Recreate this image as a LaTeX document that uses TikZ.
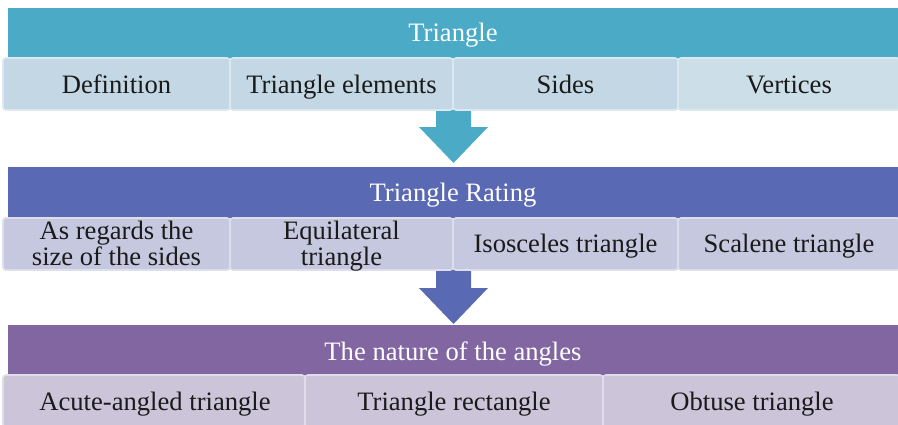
\documentclass[tikz,border=0pt]{standalone}
\usepackage{fontspec}
\setmainfont{Liberation Serif}
\definecolor{hA}{HTML}{4BABC6}
\definecolor{hB}{HTML}{5A69B4}
\definecolor{hC}{HTML}{8266A2}
\definecolor{sA}{HTML}{C3D8E4}
\definecolor{sB}{HTML}{C5C8DF}
\definecolor{sC}{HTML}{CCC5DA}
\definecolor{txt}{HTML}{1A1A1A}
\tikzset{
  hdr/.style={rectangle, anchor=north west, inner sep=0pt, outer sep=0pt,
    minimum height=51pt},
  sub/.style={rectangle, rounded corners=3pt, anchor=north west, inner sep=0pt, outer sep=0pt,
    line width=1.6pt},
  htext/.style={anchor=base, inner sep=0pt, text=white, font=\fontsize{26.6}{26}\selectfont},
  stext/.style={anchor=base, inner sep=0pt, text=txt, align=center, font=\fontsize{26.6}{26}\selectfont}
}
\begin{document}
\begin{tikzpicture}[x=1pt,y=-1pt]
\useasboundingbox (0,0) rectangle (898,424);
% arrows (behind boxes)
\fill[hA] (436,106) -- (471,106) -- (471,127) -- (488,127) -- (453.5,163) -- (419,127) -- (436,127) -- cycle;
\fill[hB] (436,266) -- (471,266) -- (471,288) -- (488,288) -- (453.5,324) -- (419,288) -- (436,288) -- cycle;
% band 1
\node[hdr, fill=hA, minimum width=891pt] (h1) at (7.5,7.5) {};
\node[htext] (t1) at (453,41) {Triangle};
\node[sub, fill=sA, draw=sA!60!white, minimum width=227pt, minimum height=52pt] (a1) at (3,58) {};
\node[sub, fill=sA, draw=sA!60!white, minimum width=223pt, minimum height=52pt] (a2) at (230,58) {};
\node[sub, fill=sA, draw=sA!60!white, minimum width=225pt, minimum height=52pt] (a3) at (453,58) {};
\node[sub, fill=sA!85!white, draw=sA!60!white, minimum width=222pt, minimum height=52pt] (a4) at (678,58) {};
\node[stext] at (116.5,93) {Definition};
\node[stext] at (341.5,93) {Triangle elements};
\node[stext] at (565.5,93) {Sides};
\node[stext] at (789,93) {Vertices};
% band 2
\node[hdr, fill=hB, minimum width=891pt] (h2) at (7.5,166.5) {};
\node[htext] (t2) at (453,201) {Triangle Rating};
\node[sub, fill=sB, draw=sB!60!white, minimum width=227pt, minimum height=52pt] (b1) at (3,218) {};
\node[sub, fill=sB, draw=sB!60!white, minimum width=223pt, minimum height=52pt] (b2) at (230,218) {};
\node[sub, fill=sB, draw=sB!60!white, minimum width=225pt, minimum height=52pt] (b3) at (453,218) {};
\node[sub, fill=sB, draw=sB!60!white, minimum width=222pt, minimum height=52pt] (b4) at (678,218) {};
\node[stext] at (116.5,239) {As regards the};
\node[stext] at (116.5,265) {size of the sides};
\node[stext] at (341.5,239) {Equilateral};
\node[stext] at (341.5,265) {triangle};
\node[stext] at (565.5,252) {Isosceles triangle};
\node[stext] at (789,252) {Scalene triangle};
% band 3
\node[hdr, fill=hC, minimum width=891pt] (h3) at (7.5,325) {};
\node[htext] (t3) at (453,360) {The nature of the angles};
\node[sub, fill=sC, draw=sC!60!white, minimum width=302pt, minimum height=52pt] (c1) at (3,375) {};
\node[sub, fill=sC, draw=sC!60!white, minimum width=298pt, minimum height=52pt] (c2) at (305,375) {};
\node[sub, fill=sC, draw=sC!60!white, minimum width=297pt, minimum height=52pt] (c3) at (603,375) {};
\node[stext] at (155,410) {Acute-angled triangle};
\node[stext] at (454,410) {Triangle rectangle};
\node[stext] at (752,410) {Obtuse triangle};
\end{tikzpicture}
\end{document}
